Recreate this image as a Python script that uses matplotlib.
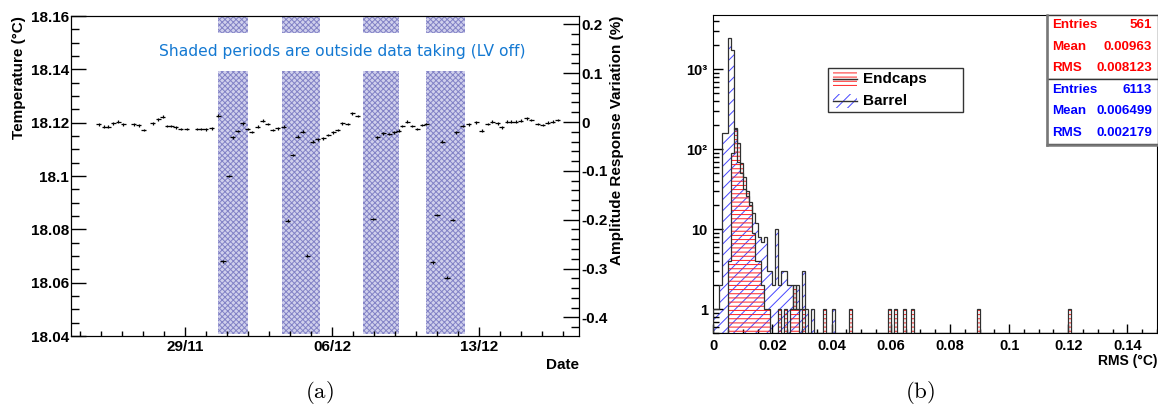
import numpy as np
import matplotlib
matplotlib.use("Agg")
import matplotlib.pyplot as plt
from matplotlib.patches import Rectangle
from matplotlib.lines import Line2D
from matplotlib.ticker import MultipleLocator, LogLocator, NullFormatter, FuncFormatter

plt.rcParams['font.family'] = ['Liberation Sans', 'DejaVu Sans']
plt.rcParams['font.weight'] = 'bold'
plt.rcParams['axes.labelweight'] = 'bold'
plt.rcParams['mathtext.fontset'] = 'cm'
plt.rcParams['hatch.linewidth'] = 0.7

# ---- panel (a): time in days from 29/11 00:00
day = [-4.13, -3.86, -3.67, -3.43, -3.19, -2.95, -2.45, -2.21, -1.98, -1.55,
       -1.29, -1.07, -0.86, -0.67, -0.45, -0.21, 0.07, 0.57, 0.76, 0.98,
       1.26, 1.57, 1.80, 2.08, 2.26, 2.50, 2.74, 2.98, 3.17, 3.45,
       3.69, 3.93, 4.17, 4.40, 4.69, 4.87, 5.12, 5.36, 5.60, 5.82,
       6.07, 6.31, 6.57, 6.82, 7.05, 7.26, 7.48, 7.74, 7.95, 8.21,
       8.94, 9.14, 9.43, 9.71, 9.95, 10.17, 10.33, 10.57, 10.81, 11.05,
       11.29, 11.48, 11.78, 11.99, 12.24, 12.46, 12.73, 12.90, 13.21, 13.49,
       13.86, 14.12, 14.40, 14.62, 14.88, 15.07, 15.33, 15.52, 15.74, 15.98,
       16.26, 16.48, 16.79, 17.02, 17.26, 17.50, 17.74]
temp = [18.1194, 18.1185, 18.1185, 18.1198, 18.1204, 18.1194, 18.1194, 18.1190, 18.1173, 18.1198,
        18.1213, 18.1222, 18.1188, 18.1188, 18.1183, 18.1176, 18.1176, 18.1176, 18.1176, 18.1175,
        18.1179, 18.1226, 18.0680, 18.1000, 18.1145, 18.1169, 18.1198, 18.1176, 18.1165, 18.1185,
        18.1207, 18.1195, 18.1173, 18.1179, 18.1185, 18.0832, 18.1079, 18.1147, 18.1166, 18.0701,
        18.1129, 18.1138, 18.1141, 18.1154, 18.1164, 18.1173, 18.1198, 18.1195, 18.1235, 18.1225,
        18.0839, 18.1145, 18.1160, 18.1158, 18.1164, 18.1170, 18.1188, 18.1204, 18.1188, 18.1176,
        18.1191, 18.1195, 18.0676, 18.0854, 18.1129, 18.0619, 18.0835, 18.1164, 18.1188, 18.1194,
        18.1201, 18.1170, 18.1195, 18.1204, 18.1198, 18.1183, 18.1204, 18.1204, 18.1204, 18.1207,
        18.1216, 18.1210, 18.1195, 18.1191, 18.1200, 18.1204, 18.1210]
shade_start = [1.57, 4.62, 8.48, 11.45]
shade_end = [2.97, 6.41, 10.18, 13.30]
date_ticks = [0, 7, 14]
date_labels = ['29/11', '06/12', '13/12']

# ---- panel (b): RMS histograms, 0.001 degC bins
bin_width = 0.001
endcap_bins = [5, 6, 7, 8, 9, 10, 11, 12, 13, 14, 15, 16, 17, 18, 22, 24, 26, 27, 28, 30,
               37, 46, 59, 61, 64, 67, 89, 120]
endcap_counts = [4, 89, 183, 119, 67, 45, 30, 22, 9, 4, 4, 2, 1, 1, 1, 1, 1, 2, 1, 1,
                 1, 1, 1, 1, 1, 1, 1, 1]
barrel_bins = [0, 1, 2, 3, 4, 5, 6, 7, 8, 9, 10, 11, 12, 13, 14, 15, 16, 17, 18, 19,
               20, 21, 22, 23, 24, 25, 26, 27, 28, 29, 30, 31, 33, 40]
barrel_counts = [1, 1, 2, 160, 160, 2450, 1740, 180, 70, 50, 32, 26, 20, 16, 12, 8, 7, 8, 3, 3,
                 2, 10, 2, 3, 3, 2, 2, 1, 2, 1, 3, 1, 1, 1]
stats_endcap = [('Entries', '561'), ('Mean', '0.00963'), ('RMS', '0.008123')]
stats_barrel = [('Entries', '6113'), ('Mean', '0.006499'), ('RMS', '0.002179')]

W, H = 1158, 407
fig = plt.figure(figsize=(W / 100, H / 100), dpi=100)


def box(x0, y0, x1, y1):
    return [x0 / W, 1 - y1 / H, (x1 - x0) / W, (y1 - y0) / H]


def fx(x):
    return x / W


def fy(y):
    return 1 - y / H


def gfmt(v, pos=None):
    return f'{round(v, 4) + 0:g}'


# ================= panel (a)
ax = fig.add_axes(box(71, 16, 579, 336))
for s, e in zip(shade_start, shade_end):
    for lo, hi in [(18.0409, 18.1394), (18.1535, 18.16)]:
        ax.fill_between([s, e], lo, hi, facecolor='#d0d0ec', edgecolor='#8282c6',
                        hatch='xxxxxx', linewidth=0, zorder=1)
ax.errorbar(day, temp, xerr=0.125, yerr=0.0005, fmt='none', ecolor='black',
            elinewidth=0.9, capsize=0, zorder=3)
ax.set_xlim(-5.44, 18.75)
ax.set_ylim(18.04, 18.16)
ax.set_xticks(date_ticks, date_labels)
ax.xaxis.set_minor_locator(MultipleLocator(1))
ax.yaxis.set_major_locator(MultipleLocator(0.02))
ax.yaxis.set_minor_locator(MultipleLocator(0.005))
ax.yaxis.set_major_formatter(FuncFormatter(gfmt))
ax.tick_params(which='both', direction='in', top=False, right=False, width=1)
ax.tick_params(axis='y', which='major', length=10.8, labelsize=11, pad=1.5)
ax.tick_params(axis='y', which='minor', length=5.4)
ax.tick_params(axis='x', which='major', length=6.5, labelsize=11, pad=3)
ax.tick_params(axis='x', which='minor', length=3.6)
ax.set_ylabel('Temperature (°C)', loc='top', fontsize=11, labelpad=3)
ax.set_xlabel('Date', loc='right', fontsize=11, labelpad=3)
ax.text(0.533, 0.888, 'Shaded periods are outside data taking (LV off)',
        transform=ax.transAxes, ha='center', va='center', color='#1479d2',
        fontsize=11.2, fontweight='normal', family='DejaVu Sans', zorder=4)

ax2 = ax.twinx()
ax2.set_ylim(-0.438, 0.217)
ax2.yaxis.set_major_locator(MultipleLocator(0.1))
ax2.yaxis.set_minor_locator(MultipleLocator(0.02))
ax2.yaxis.set_major_formatter(FuncFormatter(gfmt))
ax2.tick_params(which='both', direction='in', width=1)
ax2.tick_params(which='major', length=11.5, labelsize=11, pad=1.5)
ax2.tick_params(which='minor', length=5.8)
ax2.set_ylabel('Amplitude Response Variation (%)', loc='top', fontsize=11, labelpad=2)

# ================= panel (b)
bx = fig.add_axes(box(713.3, 14.7, 1157, 333.3))
edges = np.arange(0, 0.150 + bin_width / 2, bin_width)
floor = 0.5
barrel = np.zeros(len(edges) - 1)
barrel[barrel_bins] = barrel_counts
endcap = np.zeros(len(edges) - 1)
endcap[endcap_bins] = endcap_counts
bv = np.where(barrel > 0, barrel, floor)
ev = np.where(endcap > 0, endcap, floor)
bx.stairs(bv, edges, baseline=floor, fill=True, facecolor='none',
          edgecolor='#4646ff', hatch='///', linewidth=0, zorder=1)
bx.stairs(ev, edges, baseline=floor, fill=True, facecolor='none',
          edgecolor='#ff2020', hatch='----', linewidth=0, zorder=2)
bx.stairs(bv, edges, baseline=floor, color='#303030', linewidth=0.9, zorder=3)
bx.stairs(ev, edges, baseline=floor, color='#303030', linewidth=0.9, zorder=3)
bx.set_xlim(0, 0.15)
bx.set_yscale('log')
bx.set_ylim(floor, 4800)
bx.xaxis.set_major_locator(MultipleLocator(0.02))
bx.xaxis.set_minor_locator(MultipleLocator(0.005))
bx.xaxis.set_major_formatter(FuncFormatter(gfmt))
bx.set_yticks([1, 10, 100, 1000], ['1', '10', '10²', '10³'])
bx.yaxis.set_minor_locator(LogLocator(subs=range(2, 10)))
bx.yaxis.set_minor_formatter(NullFormatter())
bx.tick_params(which='both', direction='in', top=False, right=False, width=1)
bx.tick_params(axis='y', which='major', length=7.2, labelsize=10.5, pad=4)
bx.tick_params(axis='y', which='minor', length=4.3)
bx.tick_params(axis='x', which='major', length=6.5, labelsize=10.5, pad=4)
bx.tick_params(axis='x', which='minor', length=2.9)
bx.set_xlabel('RMS (°C)', loc='right', fontsize=10, labelpad=1)

# legend
fig.add_artist(Rectangle((fx(828.3), fy(112.3)), fx(963.3) - fx(828.3), (112.3 - 68.3) / H,
                         transform=fig.transFigure, facecolor='white', edgecolor='#333333',
                         linewidth=1, zorder=5))
for yc, label, col, hatch in [(79, 'Endcaps', '#ff2020', '----'), (101, 'Barrel', '#4646ff', '///')]:
    fig.add_artist(Rectangle((fx(832.7), fy(yc + 7)), fx(856.7) - fx(832.7), 14 / H,
                             transform=fig.transFigure, facecolor='none', edgecolor=col,
                             hatch=hatch, linewidth=0, zorder=6))
    fig.add_artist(Line2D([fx(832.7), fx(856.7)], [fy(yc), fy(yc)], transform=fig.transFigure,
                          color='#303030', linewidth=1, zorder=7))
    fig.text(fx(862.7), fy(yc), label, fontsize=11, va='center', ha='left', zorder=7)

# stats boxes
for (y0, y1), rows, col in [((14.7, 79), stats_endcap, '#ff0000'), ((79, 144), stats_barrel, '#0000ff')]:
    fig.add_artist(Rectangle((fx(1046.5), fy(y1)), fx(1157.5) - fx(1046.5), (y1 - y0) / H,
                             transform=fig.transFigure, facecolor='white', edgecolor='#333333',
                             linewidth=1, zorder=5))
    for k, (name, val) in enumerate(rows):
        yy = y0 + (y1 - y0) * (k + 0.5) / 3
        fig.text(fx(1051.7), fy(yy), name, color=col, fontsize=9.6, va='center', ha='left', zorder=6)
        fig.text(fx(1152), fy(yy), val, color=col, fontsize=9.6, va='center', ha='right', zorder=6)
fig.add_artist(Line2D([fx(1046.5), fx(1046.5)], [fy(14.7), fy(145)], transform=fig.transFigure,
                      color='#777777', linewidth=1.8, zorder=6))
fig.add_artist(Line2D([fx(1046.5), fx(1157.5)], [fy(144.5), fy(144.5)], transform=fig.transFigure,
                      color='#777777', linewidth=1.8, zorder=6))

# panel labels
fig.text(fx(319), fy(392), r'$(\mathrm{a})$', fontsize=16.5, ha='center', va='center')
fig.text(fx(920), fy(392), r'$(\mathrm{b})$', fontsize=16.5, ha='center', va='center')

fig.savefig('out.png', dpi=100)
